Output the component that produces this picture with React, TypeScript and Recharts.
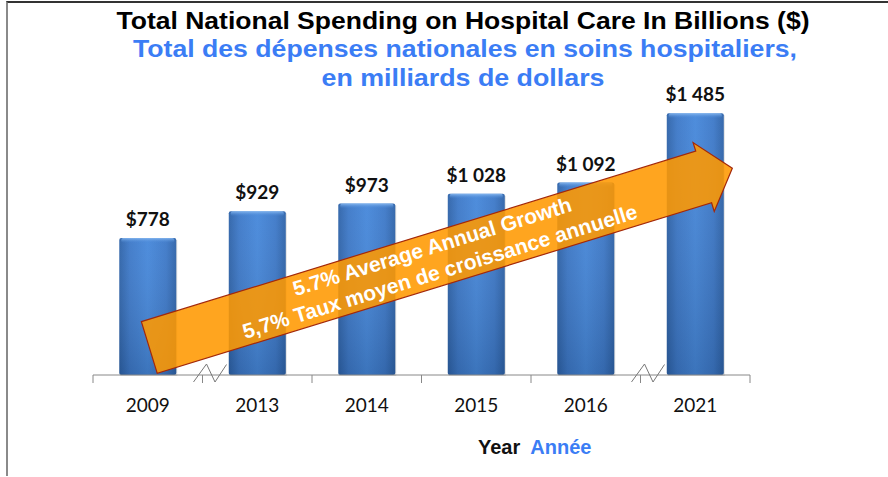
import React from "react";
import { BarChart, Bar, XAxis, YAxis, LabelList } from "recharts";

const years = ["2009", "2013", "2014", "2015", "2016", "2021"];
const spending = [778, 929, 973, 1028, 1092, 1485];
const breakBefore = ["2013", "2021"];
const titleEn = "Total National Spending on Hospital Care In Billions ($)";
const titleFr1 = "Total des dépenses nationales en soins hospitaliers,";
const titleFr2 = "en milliards de dollars";
const axisEn = "Year";
const axisFr = "Année";
const growthEn = "5.7% Average Annual Growth";
const growthFr = "5,7% Taux moyen de croissance annuelle";

const data = years.map((y, i) => ({ year: y, value: spending[i] }));

const W = 888;
const H = 477;
const X_AXIS_H = 30;
const AXIS_Y = 375;
const M = { top: 93, right: 138, bottom: H - AXIS_Y - X_AXIS_H, left: 93 };
const PLOT_W = W - M.left - M.right;
const BW = PLOT_W / years.length;
const BLUE = "#3b7df5";
const FONT_ARIAL = "'Liberation Sans', Arial, sans-serif";
const FONT_CAL = "Lato, 'Open Sans', sans-serif";

const fmt = (v: number) => {
  const s = String(v);
  return "$" + s.replace(/\B(?=(\d{3})+(?!\d))/g, " ");
};

const BarShape = (props: any) => {
  const { x, y, width, height } = props;
  if (!height || height <= 0) return null;
  return (
    <g>
      <rect x={x + 1} y={y + 2} width={width} height={height - 1} fill="rgba(0,0,0,0.12)" />
      <rect x={x} y={y} width={width} height={height} fill="url(#barH)" rx={2} />
      <rect x={x} y={y} width={width} height={height} fill="url(#barV)" rx={2} />
      <rect x={x + 2} y={y} width={width - 4} height={5} fill="url(#bevel)" rx={2} />
    </g>
  );
};

const Tick = (props: any) => {
  const { x, payload, index } = props;
  const left = x - BW / 2;
  const isBreak = breakBefore.includes(payload.value);
  return (
    <g>
      <line x1={left} y1={AXIS_Y} x2={left} y2={AXIS_Y + 8} stroke="#888" strokeWidth={1} />
      {index === years.length - 1 && (
        <line x1={x + BW / 2} y1={AXIS_Y} x2={x + BW / 2} y2={AXIS_Y + 8} stroke="#888" strokeWidth={1} />
      )}
      {isBreak && (
        <polyline
          points={`${left - 9},${AXIS_Y + 7} ${left + 4},${AXIS_Y - 11} ${left + 12.5},${AXIS_Y + 7} ${left + 24},${AXIS_Y - 10.5}`}
          fill="none"
          stroke="#777"
          strokeWidth={1}
        />
      )}
      <text
        x={x}
        y={AXIS_Y + 37}
        textAnchor="middle"
        fontFamily={FONT_CAL}
        fontSize={19}
        fill="#111"
      >
        {payload.value}
      </text>
    </g>
  );
};

const ValueLabel = (props: any) => {
  const { x, y, width, value } = props;
  return (
    <text
      x={x + width / 2}
      y={y - 12}
      textAnchor="middle"
      fontFamily={FONT_CAL}
      fontWeight={700}
      fontSize={19}
      fill="#111"
    >
      {fmt(value)}
    </text>
  );
};

export default function App() {
  return (
    <div style={{ position: "absolute", left: 0, top: 0, width: W, height: H, background: "#fff" }}>
      <div
        style={{
          position: "absolute",
          left: 6,
          top: 1,
          width: W - 6,
          height: H - 2,
          borderTop: "2px solid #333",
          borderLeft: "2px solid #8a8a8a",
          boxSizing: "border-box",
        }}
      />
      <BarChart
        width={W}
        height={H}
        data={data}
        margin={M}
        barCategoryGap="24%"
        style={{ position: "absolute", left: 0, top: 0 }}
      >
        <defs>
          <linearGradient id="barH" x1="0" y1="0" x2="1" y2="0">
            <stop offset="0%" stopColor="#2d62a8" />
            <stop offset="18%" stopColor="#3c78c8" />
            <stop offset="50%" stopColor="#4587da" />
            <stop offset="82%" stopColor="#3c78c8" />
            <stop offset="100%" stopColor="#2d62a8" />
          </linearGradient>
          <linearGradient id="barV" x1="0" y1="0" x2="0" y2="1">
            <stop offset="0%" stopColor="#ffffff" stopOpacity={0.05} />
            <stop offset="100%" stopColor="#000000" stopOpacity={0.14} />
          </linearGradient>
          <linearGradient id="bevel" x1="0" y1="0" x2="0" y2="1">
            <stop offset="0%" stopColor="#8cbcf2" stopOpacity={0.9} />
            <stop offset="100%" stopColor="#4a88d8" stopOpacity={0} />
          </linearGradient>
        </defs>
        <XAxis
          dataKey="year"
          height={X_AXIS_H}
          axisLine={{ stroke: "#888", strokeWidth: 1 }}
          tickLine={false}
          tick={<Tick />}
          interval={0}
        />
        <YAxis hide domain={[0, 1600]} />
        <Bar dataKey="value" shape={<BarShape />} isAnimationActive={false}>
          <LabelList dataKey="value" content={<ValueLabel />} />
        </Bar>
      </BarChart>
      <svg
        width={W}
        height={H}
        style={{ position: "absolute", left: 0, top: 0, pointerEvents: "none" }}
      >
        <text x={463} y={29} textAnchor="middle" fontFamily={FONT_ARIAL} fontWeight={700} fontSize={24} fill="#000" textLength={693} lengthAdjust="spacingAndGlyphs">
          {titleEn}
        </text>
        <text x={465} y={57} textAnchor="middle" fontFamily={FONT_ARIAL} fontWeight={700} fontSize={24} fill={BLUE} textLength={664} lengthAdjust="spacingAndGlyphs">
          {titleFr1}
        </text>
        <text x={463} y={86} textAnchor="middle" fontFamily={FONT_ARIAL} fontWeight={700} fontSize={24} fill={BLUE} textLength={283} lengthAdjust="spacingAndGlyphs">
          {titleFr2}
        </text>
        <text x={478} y={454} fontFamily={FONT_ARIAL} fontWeight={700} fontSize={20} fill="#111">
          {axisEn}
          <tspan dx={10} fill={BLUE}>{axisFr}</tspan>
        </text>
        <g transform="translate(149.3,347.5) rotate(-17.1)">
          <polygon
            points="0,-27 580,-27 580,-36 610,0 580,36 580,27 0,27"
            fill="#ff9900"
            fillOpacity={0.88}
            stroke="#a3280a"
            strokeWidth={1.2}
            strokeLinejoin="miter"
          />
          <text x={300} y={-6} textAnchor="middle" fontFamily={FONT_ARIAL} fontWeight={700} fontSize={21} fill="#fff">
            {growthEn}
          </text>
          <text x={300} y={20} textAnchor="middle" fontFamily={FONT_ARIAL} fontWeight={700} fontSize={21} fill="#fff">
            {growthFr}
          </text>
        </g>
      </svg>
    </div>
  );
}
